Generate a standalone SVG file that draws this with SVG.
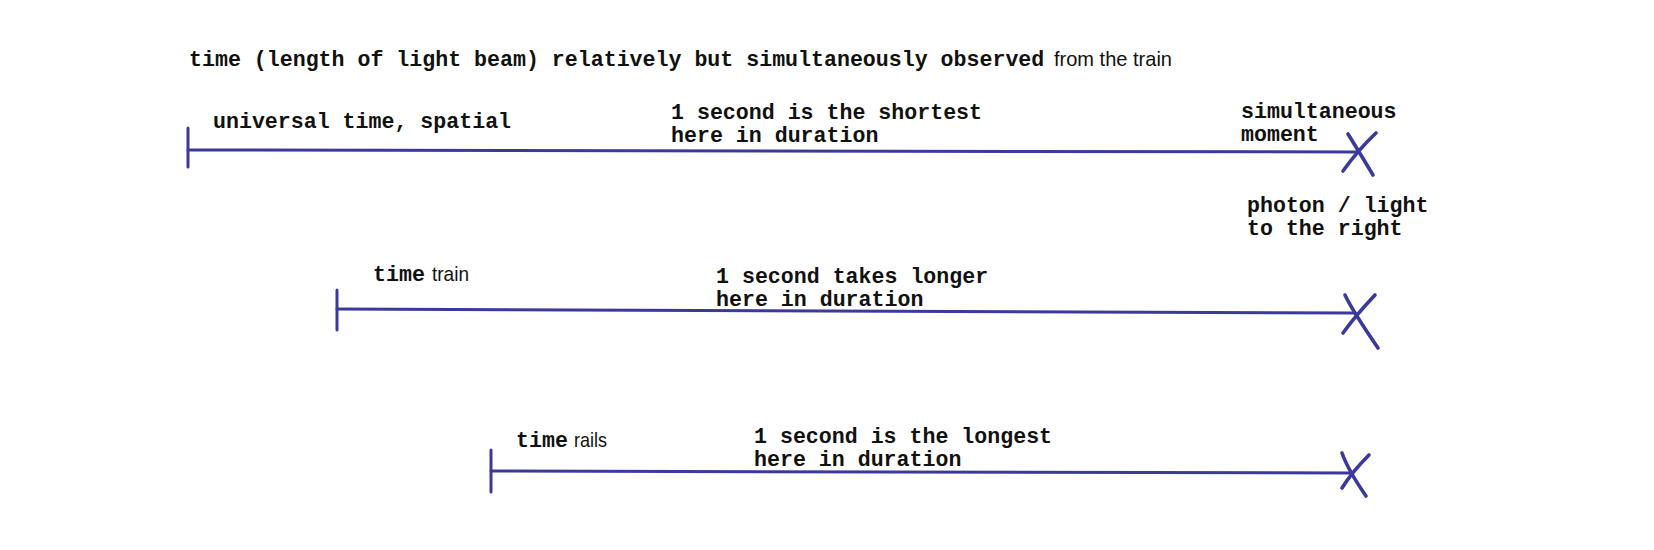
<svg xmlns="http://www.w3.org/2000/svg" width="1654" height="550" viewBox="0 0 1654 550">
<style>
.mono{font-family:"Liberation Mono","Courier New",monospace;font-weight:bold;font-size:21.6px;fill:#111}
.sans{font-family:"Liberation Sans",Arial,sans-serif;font-weight:normal;font-size:21px;fill:#111}
.ln{stroke:#3b3a9c;stroke-width:3;fill:none;stroke-linecap:round}
.x{stroke:#3b3a9c;stroke-width:3.6;fill:none;stroke-linecap:round}
</style>
<rect width="1654" height="550" fill="#ffffff"/>
<g id="title">
<text x="189" y="66" class="mono">time (length of light beam) relatively but simultaneously observed</text>
<text x="1054" y="66" class="sans" textLength="118" lengthAdjust="spacingAndGlyphs">from the train</text>
</g>
<g id="connectors">
<path class="ln" d="M188 150 L1358 152"/>
<path class="ln" d="M337 309 L1355 313"/>
<path class="ln" d="M491 471 L1352 473"/>
</g>
<g id="universal">
<path class="ln" d="M188 128 L188 167"/>
<text x="213" y="128" class="mono">universal time, spatial</text>
<text class="mono"><tspan x="671" y="119">1 second is the shortest</tspan><tspan x="671" y="142">here in duration</tspan></text>
<text class="mono"><tspan x="1241" y="118">simultaneous</tspan><tspan x="1241" y="141">moment</tspan></text>
<path class="x" d="M1348 134 Q1358 150 1373 175"/>
<path class="x" d="M1376 133 Q1358 150 1343 171"/>
<text class="mono"><tspan x="1247" y="212">photon / light</tspan><tspan x="1247" y="235">to the right</tspan></text>
</g>
<g id="train">
<path class="ln" d="M337 290 L337 330"/>
<text x="373" y="281" class="mono">time</text>
<text x="432" y="281" class="sans" textLength="37" lengthAdjust="spacingAndGlyphs">train</text>
<text class="mono"><tspan x="716" y="283">1 second takes longer</tspan><tspan x="716" y="306">here in duration</tspan></text>
<path class="x" d="M1345 295 Q1352 310 1378 348"/>
<path class="x" d="M1375 295 Q1356 315 1343 333"/>
</g>
<g id="rails">
<path class="ln" d="M491 450 L491 492"/>
<text x="516" y="447" class="mono">time</text>
<text x="574" y="447" class="sans" textLength="33" lengthAdjust="spacingAndGlyphs">rails</text>
<text class="mono"><tspan x="754" y="443">1 second is the longest</tspan><tspan x="754" y="466">here in duration</tspan></text>
<path class="x" d="M1342 453 Q1348 470 1366 496"/>
<path class="x" d="M1369 455 Q1352 472 1342 488"/>
</g>
</svg>
